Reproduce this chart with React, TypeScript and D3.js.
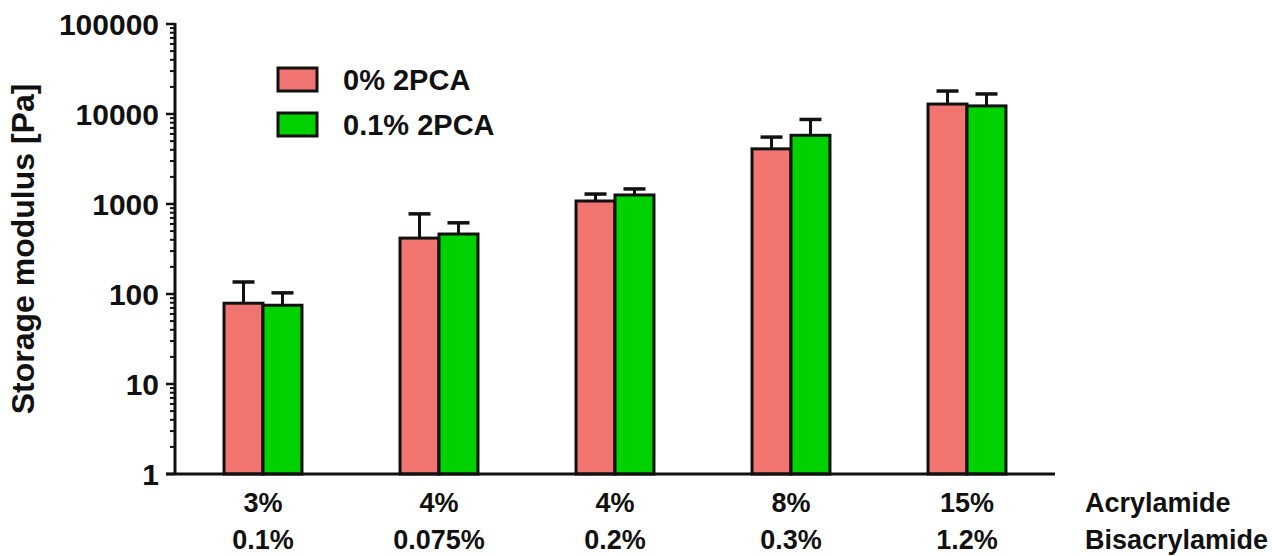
import * as d3 from 'd3'
import React from 'react'

// gel compositions
const acrylamide = ['3%', '4%', '4%', '8%', '15%']
const bisacrylamide = ['0.1%', '0.075%', '0.2%', '0.3%', '1.2%']

const seriesNames = ['0% 2PCA', '0.1% 2PCA']
const seriesColors = ['#f07470', '#00d200']

// storage modulus mean and SD [Pa]
const mean0 = [79, 418, 1080, 4100, 12900]
const sd0 = [57, 359, 210, 1440, 5100]
const mean1 = [75, 464, 1260, 5800, 12300]
const sd1 = [28, 154, 210, 2900, 4400]

const yTickLabels = ['1', '10', '100', '1000', '10000', '100000']

const W = 1272
const H = 556
const font = '"Liberation Sans", Arial, sans-serif'

const App = () => {
  const x0 = 175
  const x1 = 1055
  const yBottom = 474
  const yTop = 24

  const y = d3.scaleLog().domain([1, 100000]).range([yBottom, yTop])
  const xBand = d3.scaleBand<number>()
    .domain(d3.range(acrylamide.length))
    .range([x0, x1])
    .paddingInner(0.557)
    .paddingOuter(0.2785)
  const xSub = d3.scaleBand<number>().domain([0, 1]).range([0, xBand.bandwidth()])

  const series = [
    { means: mean0, sds: sd0 },
    { means: mean1, sds: sd1 },
  ]

  const allTicks = y.ticks()
  const isMajor = (v: number) => Math.abs(Math.log10(v) - Math.round(Math.log10(v))) < 1e-9

  const capW = 22

  return (
    <svg width={W} height={H} style={{ position: 'absolute', left: 0, top: 0, background: '#fff' }}
      fontFamily={font} fontWeight="bold">
      {/* bars */}
      {series.map((s, si) =>
        s.means.map((m, i) => {
          const bx = (xBand(i) as number) + (xSub(si) as number)
          const bw = xSub.bandwidth()
          const top = y(m)
          const cx = bx + bw / 2
          const eTop = y(m + s.sds[i])
          return (
            <g key={si + '-' + i}>
              <line x1={cx} x2={cx} y1={top} y2={eTop} stroke="#111" strokeWidth={3} />
              <line x1={cx - capW / 2} x2={cx + capW / 2} y1={eTop} y2={eTop} stroke="#111" strokeWidth={3.5} />
              <rect x={bx} y={top} width={bw} height={yBottom - top}
                fill={seriesColors[si]} stroke="#111" strokeWidth={3} />
            </g>
          )
        })
      )}

      {/* y axis */}
      <line x1={x0} x2={x0} y1={yTop - 1} y2={yBottom} stroke="#111" strokeWidth={3} />
      {allTicks.map((t, i) => (
        <line key={i} x1={x0} x2={x0 - (isMajor(t) ? 9 : 5)} y1={y(t)} y2={y(t)}
          stroke="#111" strokeWidth={isMajor(t) ? 2.5 : 2} />
      ))}
      {yTickLabels.map((l) => (
        <text key={l} x={x0 - 16} y={y(+l)} dy="0.36em" textAnchor="end" fontSize={30} fill="#111">{l}</text>
      ))}
      <text transform={`translate(34,${(yTop + yBottom) / 2}) rotate(-90)`} textAnchor="middle"
        fontSize={32} fill="#111">Storage modulus [Pa]</text>

      {/* x axis */}
      <line x1={x0 - 9} x2={x1} y1={yBottom} y2={yBottom} stroke="#111" strokeWidth={3} />
      {acrylamide.map((a, i) => {
        const cx = (xBand(i) as number) + xBand.bandwidth() / 2
        return (
          <g key={i}>
            <text x={cx} y={512} textAnchor="middle" fontSize={27} fill="#111">{a}</text>
            <text x={cx} y={549} textAnchor="middle" fontSize={27} fill="#111">{bisacrylamide[i]}</text>
          </g>
        )
      })}
      <text x={1085} y={512} fontSize={27} fill="#111">Acrylamide</text>
      <text x={1085} y={549} fontSize={27} fill="#111">Bisacrylamide</text>

      {/* legend */}
      {seriesNames.map((n, i) => (
        <g key={n} transform={`translate(278,${68 + i * 45})`}>
          <rect width={39} height={23} fill={seriesColors[i]} stroke="#111" strokeWidth={3} />
          <text x={65} y={12} dy="0.36em" fontSize={29} fill="#111">{n}</text>
        </g>
      ))}
    </svg>
  )
}

export default App
